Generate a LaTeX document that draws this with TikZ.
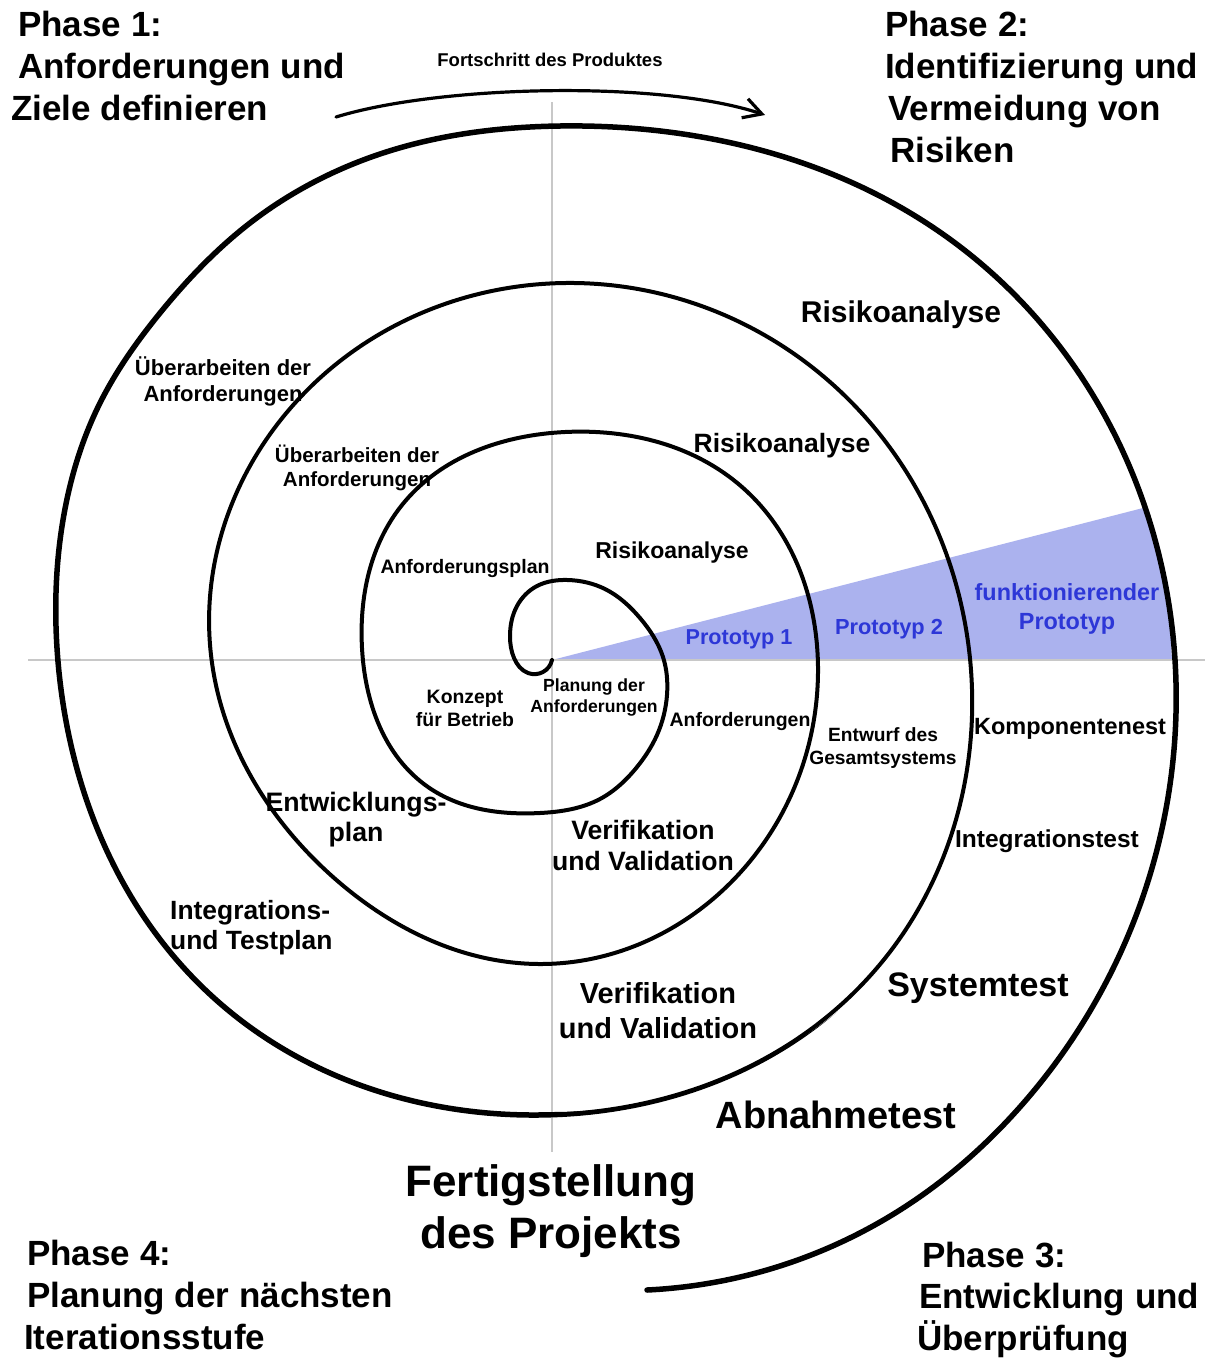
\documentclass[tikz,border=0pt]{standalone}
\usepackage{fontspec}
\setmainfont{Liberation Sans}
\usetikzlibrary{arrows.meta,hobby}

\definecolor{wedgefill}{RGB}{171,178,238}
\definecolor{protoblue}{RGB}{45,55,215}
\definecolor{axisgray}{RGB}{200,200,200}

% font size helper and stacked lines with first-line baseline
\newcommand{\setfs}[2]{\fontsize{#1}{#2}\selectfont}
\newcommand{\textlines}[2]{\begin{tabular}[t]{@{}#1@{}}#2\end{tabular}}

\tikzset{
  lbl/.style={inner sep=0pt, anchor=base, font=\bfseries},
  lblL/.style={inner sep=0pt, anchor=base west, font=\bfseries},
  axisline/.style={draw=axisgray, line width=2pt},
  spiralin/.style={draw=black, line width=4pt, line cap=round, line join=round, use Hobby shortcut},
  spiralout/.style={draw=black, line width=5.5pt, line cap=round, line join=round, use Hobby shortcut},
  progress/.style={draw=black, line width=3.2pt, line cap=round,
    -{Straight Barb[length=18pt, width=20pt, line width=3.2pt]}},
}

\begin{document}
\begin{tikzpicture}[x={(1pt,0)}, y={(0,-1pt)}]
\useasboundingbox (0,0) rectangle (1212,1358);
\fill[white] (0,0) rectangle (1212,1358);

% prototype wedge
\fill[wedgefill] (552,660) -- (1143,508) -- (1153,535) -- (1163,578) -- (1170,625)
  -- (1172,660) -- cycle;

% axes
\draw[axisline] (28,660) -- (1205,660);
\draw[axisline] (552,102) -- (552,1152);

% the spiral, drawn thin throughout
\draw[spiralin] (552,660) .. (543,672) .. (528,673) .. (514,658) .. (510,636)
  .. (517,606) .. (537,586) .. (568,580) .. (605,589) .. (640,618) .. (663,657)
  .. (667,695) .. (657,735) .. (637,767) .. (600,799) .. (540,813)
  .. (428,787) .. (362,648) .. (402,505) .. (565,432) .. (742,487) .. (818,673)
  .. (755,855) .. (542,964) .. (333,877) .. (211,655) .. (295,403) .. (565,283)
  .. (830,382) .. (971,670) .. (869,977) .. (530,1115) .. (214,998) .. (57,648)
  .. (63,520) .. (100,403) .. (160,313) .. (250,223) .. (383,153) .. (560,126)
  .. (963,249) .. (1175,660) .. (1010,1118) .. (900,1210) .. (647,1290);

% the last turn again, heavier, outside the inner turns
\begin{scope}
  \clip (-50,-50) -- (1300,-50) -- (1300,1450) -- (-50,1450) -- cycle
        (1009,655) arc[start angle=0, end angle=-360, radius=457];
  \draw[spiralout] (552,660) .. (543,672) .. (528,673) .. (514,658) .. (510,636)
    .. (517,606) .. (537,586) .. (568,580) .. (605,589) .. (640,618) .. (663,657)
    .. (667,695) .. (657,735) .. (637,767) .. (600,799) .. (540,813)
    .. (428,787) .. (362,648) .. (402,505) .. (565,432) .. (742,487) .. (818,673)
    .. (755,855) .. (542,964) .. (333,877) .. (211,655) .. (295,403) .. (565,283)
    .. (830,382) .. (971,670) .. (869,977) .. (530,1115) .. (214,998) .. (57,648)
    .. (63,520) .. (100,403) .. (160,313) .. (250,223) .. (383,153) .. (560,126)
    .. (963,249) .. (1175,660) .. (1010,1118) .. (900,1210) .. (647,1290);
\end{scope}

% progress arrow
\coordinate (arrS) at (336,117);
\coordinate (arrE) at (765,115);
\draw[progress] (arrS) .. controls (440,85) and (660,80) .. (arrE);

% phase headings
\node[lblL] (ph1) at (11,36) {\setfs{35}{42}\textlines{l}{\hspace*{7pt}Phase 1:\\\hspace*{7pt}Anforderungen und\\Ziele definieren}};
\node[lblL] (ph2) at (885,36) {\setfs{35}{42}\textlines{l}{Phase 2:\\Identifizierung und\\\hspace*{3pt}Vermeidung von\\\hspace*{5pt}Risiken}};
\node[lblL] (ph3) at (917,1267) {\setfs{35}{41.5}\textlines{l}{\hspace*{5pt}Phase 3:\\\hspace*{2pt}Entwicklung und\\Überprüfung}};
\node[lblL] (ph4) at (24,1265) {\setfs{35}{42}\textlines{l}{\hspace*{3pt}Phase 4:\\\hspace*{3pt}Planung der nächsten\\Iterationsstufe}};

\node[lbl] (fertig) at (551,1196) {\setfs{44}{52}\textlines{c}{Fertigstellung\\des Projekts}};
\node[lbl] (fort) at (550,66) {\setfs{18.5}{22}Fortschritt des Produktes};

% labels along the turns
\node[lbl] (risk3) at (901,322) {\setfs{30}{36}Risikoanalyse};
\node[lbl] (risk2) at (782,452) {\setfs{26.5}{32}Risikoanalyse};
\node[lbl] (risk1) at (672,558) {\setfs{23}{28}Risikoanalyse};
\node[lbl] (ueb2) at (223,375) {\setfs{22}{26.5}\textlines{c}{Überarbeiten der\\Anforderungen}};
\node[lbl] (ueb1) at (357,462) {\setfs{20.5}{24}\textlines{c}{Überarbeiten der\\Anforderungen}};
\node[lbl] (aplan) at (465,573) {\setfs{19.5}{23}Anforderungsplan};
\node[lbl] (konz) at (465,703) {\setfs{19.4}{23}\textlines{c}{Konzept\\für Betrieb}};
\node[lbl] (plan) at (594,691) {\setfs{17.6}{21}\textlines{c}{Planung der\\Anforderungen}};
\node[lbl] (anf) at (740,726) {\setfs{19.5}{23}Anforderungen};
\node[lbl] (entw) at (883,741) {\setfs{19.2}{23}\textlines{c}{Entwurf des\\Gesamtsystems}};
\node[lbl] (komp) at (1070,734) {\setfs{23.5}{28}Komponentenest};
\node[lbl] (integ) at (1047,847) {\setfs{24.5}{29}Integrationstest};
\node[lbl] (syst) at (978,996) {\setfs{34}{40}Systemtest};
\node[lbl] (abn) at (836,1128) {\setfs{38}{45}Abnahmetest};
\node[lbl] (veri1) at (643,839) {\setfs{26.6}{31}\textlines{c}{Verifikation\\und Validation}};
\node[lbl] (veri2) at (658,1003) {\setfs{29}{35}\textlines{c}{Verifikation\\und Validation}};
\node[lbl] (eplan) at (356,811) {\setfs{26.7}{30}\textlines{c}{Entwicklungs-\\plan}};
\node[lblL] (itplan) at (170,919) {\setfs{26.4}{30}\textlines{l}{Integrations-\\und Testplan}};

% prototype labels
\node[lbl, text=protoblue] (p1) at (739,644) {\setfs{21.6}{26}Prototyp 1};
\node[lbl, text=protoblue] (p2) at (889,634) {\setfs{21.8}{26}Prototyp 2};
\node[lbl, text=protoblue] (p3) at (1067,600) {\setfs{23.4}{29}\textlines{c}{funktionierender\\Prototyp}};
\end{tikzpicture}
\end{document}
